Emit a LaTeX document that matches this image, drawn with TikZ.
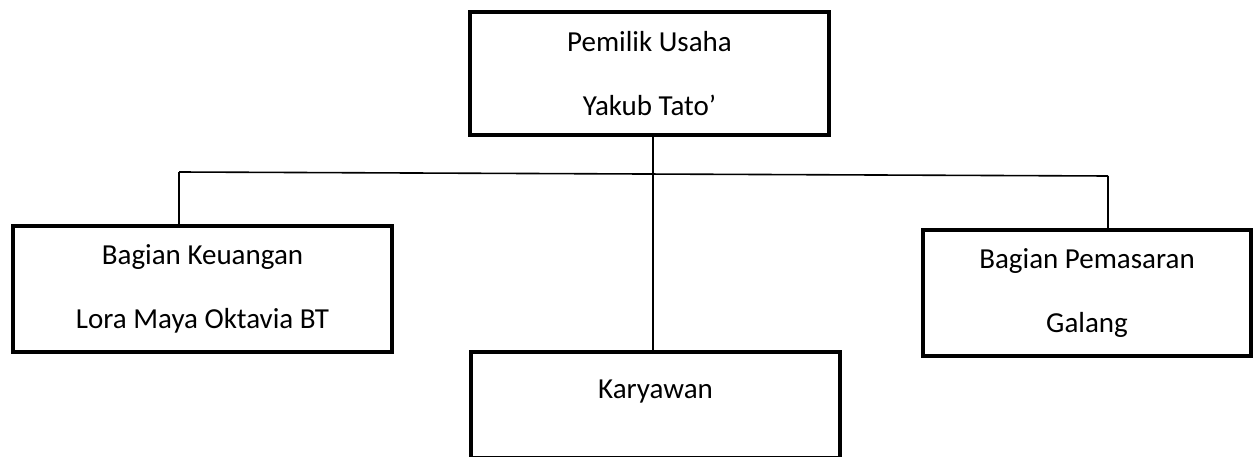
\documentclass[tikz,border=0pt]{standalone}
\usepackage{fontspec}
\setmainfont{Carlito}
\begin{document}
\begin{tikzpicture}[x=1pt,y=-1pt,
  box/.style={draw=black,line width=4pt,rectangle,inner sep=0pt,align=center,
    font=\fontsize{29}{64}\selectfont},
  conn/.style={draw=black,line width=1.6pt},
  lbl/.style={inner sep=0pt,font=\fontsize{29}{64}\selectfont}]
\useasboundingbox (0,0) rectangle (1256,457);
\node[box,minimum width=359pt,minimum height=123pt] (top) at (649.5,73.5)
  {Pemilik Usaha\\Yakub Tato'};
\node[box,minimum width=379pt,minimum height=125pt] (keu) at (202.5,289)
  {Bagian Keuangan\\Lora Maya Oktavia BT};
\node[box,minimum width=328pt,minimum height=126pt] (pem) at (1087,293)
  {Bagian Pemasaran\\Galang};
\node[box,minimum width=369pt,minimum height=106pt] (kar) at (655.5,405) {};
\node[lbl] (kart) at (655.5,392) {Karyawan};
\coordinate (hl) at (179,172);
\coordinate (hr) at (1108,176);
\draw[conn] (top.south -| 653,0) -- (kar.north -| 653,0);
\draw[conn] (hl) -- (hr);
\draw[conn] (hl) -- (hl |- keu.north);
\draw[conn] (hr) -- (hr |- pem.north);
\end{tikzpicture}
\end{document}
